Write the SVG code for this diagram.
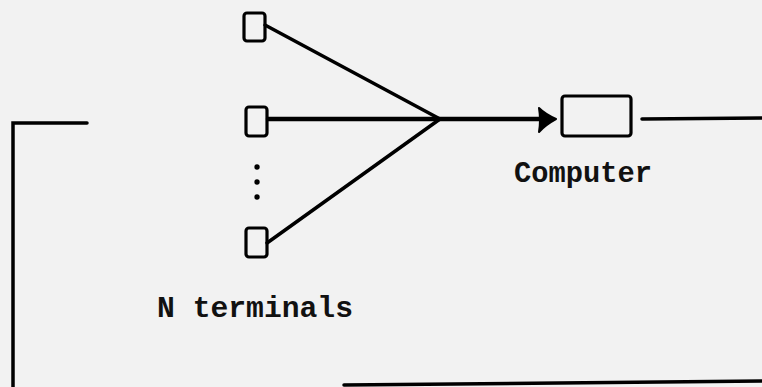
<svg xmlns="http://www.w3.org/2000/svg" width="762" height="387" viewBox="0 0 762 387">
<style>
.bg{fill:#f2f2f2}
.box{fill:none;stroke:#000;stroke-width:3.2}
.ln{fill:none;stroke:#000;stroke-width:3.5;stroke-linecap:round}
.thick{stroke-width:4.5}
.lbl{font-family:"Liberation Mono","Courier New",monospace;font-size:29px;font-weight:bold;fill:#111}
</style>
<rect class="bg" x="0" y="0" width="762" height="387"/>
<g id="connectors">
<line class="ln" x1="265" y1="25" x2="440" y2="119"/>
<line class="ln thick" x1="268" y1="119" x2="542" y2="119"/>
<line class="ln" x1="267" y1="243" x2="440" y2="119"/>
<path d="M539,108 Q545,114 556,119 Q545,125 539,132 Q541,120 539,108 Z" fill="#000" stroke="#000" stroke-width="2" stroke-linejoin="round"/>
<line class="ln" x1="642" y1="119" x2="762" y2="118"/>
<polyline class="ln" points="87,123 13,123 13,387"/>
<line class="ln" x1="344" y1="385" x2="762" y2="381"/>
</g>
<g id="terminal1"><rect class="box" x="244" y="13" width="21" height="28" rx="3"/></g>
<g id="terminal2"><rect class="box" x="246" y="107" width="21" height="29" rx="3"/></g>
<g id="ellipsis">
<circle cx="257" cy="167" r="2.7" fill="#000"/>
<circle cx="257" cy="182" r="2.7" fill="#000"/>
<circle cx="257" cy="197" r="2.7" fill="#000"/>
</g>
<g id="terminalN"><rect class="box" x="246" y="228" width="21" height="29" rx="3"/></g>
<g id="computer">
<rect class="box" x="562" y="96" width="69" height="40" rx="3"/>
<text class="lbl" x="514" y="182" textLength="138" lengthAdjust="spacingAndGlyphs">Computer</text>
</g>
<g id="label-terminals">
<text class="lbl" x="157" y="317" textLength="196" lengthAdjust="spacingAndGlyphs">N terminals</text>
</g>
</svg>
